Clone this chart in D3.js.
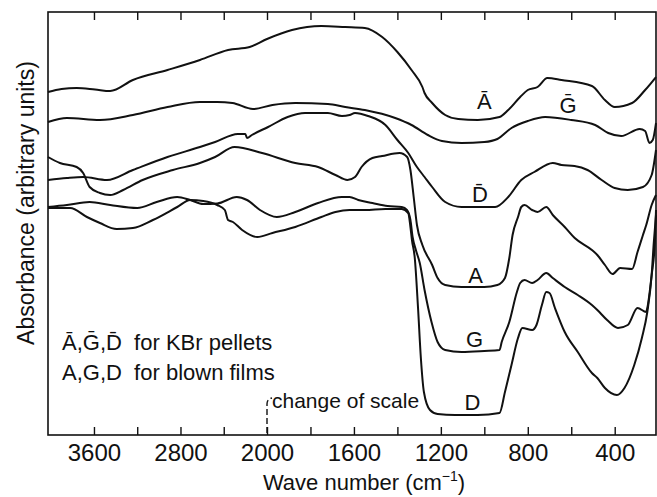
<!DOCTYPE html>
<html><head><meta charset="utf-8">
<script src="https://cdn.jsdelivr.net/npm/d3@7"></script>
<style>
body{margin:0;background:#fff}
svg{display:block}
text{font-family:"Liberation Sans",Arial,sans-serif;fill:#111}
</style>
</head><body>
<svg id="chart" width="657" height="497"></svg>
<script>
// ---- data (wave number cm-1, absorbance in arbitrary units) ----
const seriesNames = ["\u0100", "\u1E20", "D\u0304", "A", "G", "D"];

const specAbar = [[4025,3.43],[3900,3.46],[3760,3.47],[3590,3.455],[3450,3.44],[3240,3.55],[2920,3.65],[2620,3.75],[2360,3.85],[2160,3.88],[2000,3.96],[1885,4.05],[1750,4.09],[1640,4.08],[1550,4.07],[1470,3.98],[1400,3.83],[1335,3.65],[1285,3.48],[1275,3.42],[1240,3.32],[1180,3.20],[1120,3.16],[1030,3.15],[930,3.18],[890,3.25],[835,3.38],[800,3.45],[755,3.48],[710,3.57],[645,3.55],[505,3.49],[445,3.35],[400,3.28],[320,3.32],[260,3.45],[210,3.58]];

const specGbar = [[4025,3.13],[3850,3.17],[3545,3.15],[3240,3.20],[2920,3.28],[2620,3.33],[2460,3.33],[2320,3.32],[2130,3.26],[1975,3.30],[1870,3.32],[1720,3.31],[1640,3.28],[1550,3.25],[1410,3.17],[1335,3.10],[1260,3.00],[1195,2.94],[1105,2.92],[1000,2.93],[940,2.96],[875,3.07],[800,3.14],[720,3.18],[600,3.15],[490,3.10],[430,3.02],[370,2.99],[285,3.06],[260,3.04],[240,2.92],[225,2.95],[210,3.12]];

const specDbar = [[4025,2.55],[3850,2.57],[3700,2.58],[3480,2.55],[3240,2.65],[2920,2.78],[2620,2.88],[2480,2.93],[2270,3.01],[2200,3.01],[2185,2.97],[2140,3.00],[1995,3.08],[1905,3.18],[1825,3.22],[1720,3.22],[1655,3.19],[1620,3.20],[1595,3.22],[1535,3.19],[1455,3.10],[1400,2.95],[1350,2.82],[1310,2.68],[1275,2.58],[1240,2.48],[1180,2.33],[1105,2.28],[1030,2.28],[950,2.28],[890,2.38],[830,2.55],[770,2.63],[685,2.72],[645,2.70],[585,2.69],[525,2.65],[460,2.55],[400,2.47],[340,2.45],[270,2.48],[230,2.60],[210,2.85]];

const specA = [[4025,2.78],[3915,2.72],[3760,2.68],[3700,2.62],[3640,2.48],[3545,2.42],[3450,2.40],[3330,2.45],[3150,2.55],[2870,2.65],[2620,2.72],[2480,2.78],[2300,2.88],[2045,2.82],[1870,2.72],[1765,2.68],[1685,2.60],[1630,2.55],[1595,2.58],[1565,2.68],[1515,2.77],[1470,2.79],[1390,2.82],[1355,2.78],[1340,2.65],[1325,2.38],[1310,2.10],[1285,1.90],[1240,1.70],[1215,1.57],[1180,1.50],[1105,1.48],[1000,1.48],[940,1.50],[905,1.57],[885,1.77],[870,2.00],[845,2.18],[830,2.28],[815,2.30],[780,2.25],[755,2.23],[715,2.28],[685,2.20],[630,2.08],[584,1.97],[505,1.85],[480,1.80],[445,1.70],[410,1.61],[375,1.67],[320,1.66],[295,1.83],[270,2.00],[255,2.10],[230,2.30],[210,2.40]];

const specG = [[4025,2.28],[3850,2.30],[3640,2.33],[3450,2.30],[3200,2.27],[3020,2.33],[2830,2.38],[2710,2.35],[2590,2.31],[2460,2.315],[2280,2.38],[2185,2.35],[2065,2.25],[1955,2.18],[1870,2.23],[1765,2.32],[1655,2.38],[1620,2.38],[1580,2.35],[1515,2.32],[1445,2.29],[1380,2.28],[1356,2.25],[1340,2.15],[1330,1.98],[1315,1.85],[1297,1.72],[1275,1.45],[1243,1.13],[1215,0.93],[1180,0.85],[1105,0.83],[1000,0.84],[930,0.85],[920,0.93],[885,1.13],[850,1.43],[835,1.52],[815,1.55],[780,1.52],[755,1.55],[715,1.62],[685,1.57],[630,1.48],[570,1.40],[505,1.30],[480,1.25],[435,1.15],[385,1.07],[340,1.10],[295,1.27],[255,1.23],[250,1.27],[230,1.60],[215,1.93],[210,2.25]];

const specD = [[4025,2.27],[3820,2.27],[3665,2.18],[3545,2.12],[3390,2.06],[3240,2.07],[3055,2.15],[2830,2.28],[2710,2.35],[2590,2.34],[2460,2.30],[2390,2.25],[2360,2.15],[2315,2.13],[2230,2.05],[2090,1.98],[1975,2.02],[1870,2.08],[1750,2.18],[1685,2.23],[1620,2.25],[1550,2.25],[1455,2.26],[1380,2.26],[1350,2.22],[1340,2.08],[1333,1.95],[1320,1.77],[1305,1.27],[1292,0.77],[1278,0.43],[1250,0.25],[1215,0.21],[1135,0.20],[1030,0.20],[930,0.22],[905,0.43],[875,0.70],[845,0.97],[825,1.07],[780,1.05],[760,1.10],[735,1.30],[715,1.43],[700,1.42],[675,1.27],[630,1.03],[570,0.83],[505,0.62],[480,0.57],[445,0.47],[390,0.40],[355,0.47],[310,0.70],[275,0.97],[250,1.23],[230,1.60],[220,1.93],[210,2.20]];

// curve labels: [name, wave number, absorbance]
const curveLabels = [["\u0100",1000,3.26],["\u1E20",615,3.22],["D\u0304",1020,2.33],["A",1040,1.52],["G",1045,0.88],["D",1055,0.25]];

const tickValues = [3600,3200,2800,2400,2000,1800,1600,1400,1200,1000,800,600,400];
const tickLabels = [3600,2800,2000,1600,1200,800,400];
const legendLines = ["\u0100,\u1E20,D\u0304  for KBr pellets", "A,G,D  for blown films"];

// ---- chart ----
const svg = d3.select("#chart");
const x = d3.scaleLinear().domain([4025, 2000, 210]).range([48, 267, 656]);
const y = d3.scaleLinear().domain([0, 4.23]).range([435, 12]);

const fmt = d => tickLabels.includes(d) ? String(d) : "";

const gB = svg.append("g").attr("transform","translate(0,435)")
  .call(d3.axisBottom(x).tickValues(tickValues).tickSizeInner(-8).tickSizeOuter(0).tickPadding(9).tickFormat(fmt));
const gT = svg.append("g").attr("transform","translate(0,12)")
  .call(d3.axisTop(x).tickValues(tickValues).tickSizeInner(-8).tickSizeOuter(0).tickFormat(""));
[gB,gT].forEach(g=>{
  g.select(".domain").remove();
  g.selectAll(".tick line").attr("stroke","#111").attr("stroke-width",1.4);
  g.selectAll(".tick text").attr("font-size",24).attr("font-family","Liberation Sans, Arial, sans-serif").attr("fill","#111");
});

svg.append("rect").attr("x",x.range()[0]).attr("y",y.range()[1])
  .attr("width",x.range()[2]-x.range()[0]).attr("height",y.range()[0]-y.range()[1])
  .attr("fill","none").attr("stroke","#111").attr("stroke-width",1.6);

const line = d3.line().x(d=>x(d[0])).y(d=>y(d[1])).curve(d3.curveMonotoneX);
[specAbar,specGbar,specDbar,specA,specG,specD].forEach(s=>{
  svg.append("path").datum(s).attr("d",line)
    .attr("fill","none").attr("stroke","#111").attr("stroke-width",2).attr("stroke-linejoin","round");
});

svg.selectAll("text.cl").data(curveLabels).join("text").attr("class","cl")
  .attr("x",d=>x(d[1])).attr("y",d=>y(d[2])).attr("text-anchor","middle")
  .attr("font-size",22).text(d=>d[0]);

svg.selectAll("text.lg").data(legendLines).join("text").attr("class","lg")
  .attr("x",62).attr("y",(d,i)=>350+i*30).attr("font-size",22)
  .attr("xml:space","preserve").style("white-space","pre").text(d=>d);

// change of scale marker
const xs = x(2000);
svg.append("path").attr("d",`M${xs},433 L${xs},404 Q${xs},399 ${xs+5},398`)
  .attr("fill","none").attr("stroke","#111").attr("stroke-width",1.4).attr("stroke-dasharray","6,3");
svg.append("text").attr("x",xs+5).attr("y",408).attr("font-size",21).text("change of scale");

// axis titles
const xt = svg.append("text").attr("x",364).attr("y",490).attr("text-anchor","middle").attr("font-size",22);
xt.append("tspan").text("Wave number (cm");
xt.append("tspan").attr("dy",-9).attr("font-size",14).text("\u22121");
xt.append("tspan").attr("dy",9).text(")");

svg.append("text").attr("transform","translate(34,203) rotate(-90)").attr("text-anchor","middle")
  .attr("font-size",23).text("Absorbance (arbitrary units)");
</script>
</body></html>
